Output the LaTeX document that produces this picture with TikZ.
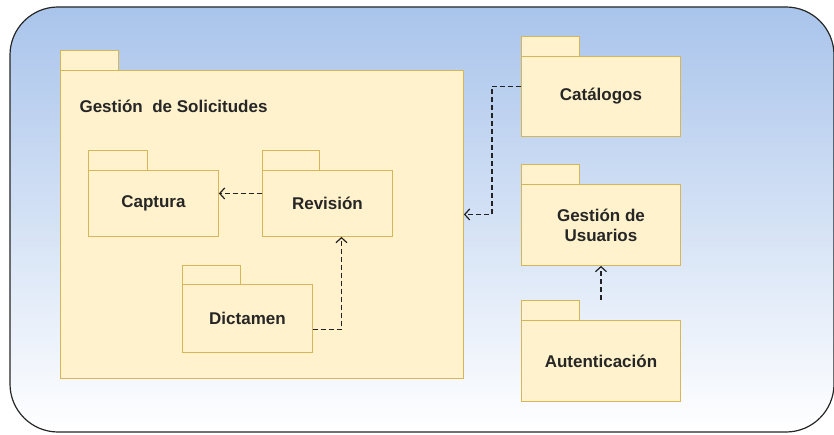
\documentclass[tikz,border=0pt]{standalone}
\usepackage{fontspec}
\setmainfont{Liberation Sans}
\usepackage{tikz}
\usetikzlibrary{arrows.meta}
\usepackage{xcolor}
\definecolor{fondoazul}{HTML}{A9C4EB}
\definecolor{paqfill}{HTML}{FFF2CC}
\definecolor{paqline}{HTML}{D6B656}
\definecolor{flecha}{HTML}{222222}

\tikzset{
  paquete/.style={draw=paqline, fill=paqfill, line width=0.9pt, anchor=north west,
    inner sep=0pt, align=center, font=\fontsize{17}{20}\selectfont\bfseries,
    text=black!85},
  pestana/.style={draw=paqline, fill=paqfill, line width=0.9pt},
  depende/.style={draw=flecha, line width=1.2pt, dash pattern=on 5pt off 3pt,
    -{Straight Barb[length=5pt,width=11pt]}}
}

\begin{document}
\begin{tikzpicture}[x=1pt,y=-1pt]
 \useasboundingbox (0,0) rectangle (834,435);
 \draw[black!85, line width=1.2pt, rounded corners=48pt, top color=fondoazul, bottom color=white]
   (10,7) rectangle (834,432);

 % paquete principal
 \draw[pestana] (60,50) rectangle (118,70);
 \node[paquete, minimum width=403pt, minimum height=308pt] (gs) at (60,70) {};
 \node[anchor=west, font=\fontsize{17}{20}\selectfont\bfseries, text=black!85] (gstxt) at (76,106) {Gestión~ de Solicitudes};

 \draw[pestana] (88,150) rectangle ++(59,20);
 \node[paquete, minimum width=130pt, minimum height=66pt] (cap) at (88,170) {Captura};
 \draw[pestana] (262,150) rectangle ++(57,20);
 \node[paquete, minimum width=130pt, minimum height=66pt] (rev) at (262,170) {Revisión};
 \draw[pestana] (182,265) rectangle ++(58,19);
 \node[paquete, minimum width=130pt, minimum height=68pt] (dic) at (182,284) {Dictamen};

 % paquetes de la derecha
 \draw[pestana] (521,36) rectangle ++(58,20);
 \node[paquete, minimum width=159pt, minimum height=80pt] (cat) at (521,56) {Catálogos};
 \draw[pestana] (521,164) rectangle ++(58,20);
 \node[paquete, minimum width=159pt, minimum height=81pt] (usu) at (521,184) {Gestión de\\Usuarios};
 \draw[pestana] (521,300) rectangle ++(58,20);
 \node[paquete, minimum width=159pt, minimum height=81pt] (aut) at (521,320) {Autenticación};

 \draw[depende] ([yshift=10pt]rev.west) -- ([yshift=10pt]cap.east);
 \draw[depende] ([yshift=-11pt]dic.east) -| ([xshift=14pt]rev.south);
 \draw[depende] ([yshift=10pt]cat.west) -- ++(-29,0) |- ([yshift=10pt]gs.east);
 \draw[depende] ([yshift=20pt]aut.north) -- (usu.south);
\end{tikzpicture}
\end{document}
